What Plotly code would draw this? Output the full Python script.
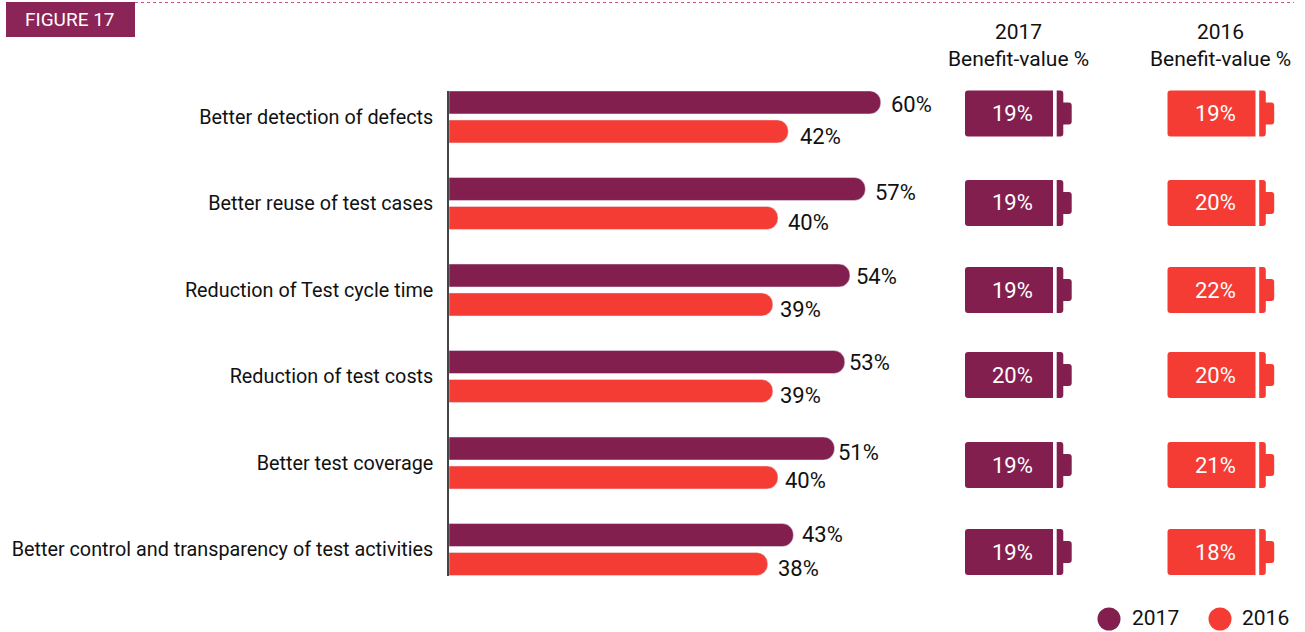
import plotly.graph_objects as go

W, H = 1305, 632
PURPLE = '#831f4f'
RED = '#f43c35'
FONT = 'Roboto, Liberation Sans, sans-serif'
AXIS_START = -24  # bars do not start from zero in the original

categories = ['Better detection of defects', 'Better reuse of test cases',
              'Reduction of Test cycle time', 'Reduction of test costs',
              'Better test coverage', 'Better control and transparency of test activities']
adoption_2017 = [60, 57, 54, 53, 51, 43]
adoption_2016 = [42, 40, 39, 39, 40, 38]
benefit_2017 = [19, 19, 19, 20, 19, 19]
benefit_2016 = [19, 20, 22, 20, 21, 18]

# placement of the hand-set pieces, in page pixels
label_y_2017 = [104, 192, 276, 363, 452, 534]
label_y_2016 = [136, 222, 310, 395, 481, 568]
label_gap_2017 = [8, 8, 4, 2, 1, 7]
label_gap_2016 = [10, 8, 5, 5, 5, 8]
battery_y = [113.5, 203, 290, 375, 465, 552]


def px(x):
    return x / W


def py(y):
    return 1 - y / H


def text(x, y, s, size=21, color='#111111', anchor='center'):
    return dict(x=px(x), y=py(y), xref='paper', yref='paper', text=s, showarrow=False,
                xanchor=anchor, yanchor='middle', align='center',
                font=dict(family=FONT, size=size, color=color))


def battery_paths(x0, yc):
    top, bot = yc - 23, yc + 23
    r = 3
    body = (f'M{px(x0 + r)},{py(top)} L{px(x0 + 88)},{py(top)} L{px(x0 + 88)},{py(bot)} '
            f'L{px(x0 + r)},{py(bot)} Q{px(x0)},{py(bot)} {px(x0)},{py(bot - r)} '
            f'L{px(x0)},{py(top + r)} Q{px(x0)},{py(top)} {px(x0 + r)},{py(top)} Z')
    a, b, c = x0 + 91.7, x0 + 98.3, x0 + 106.7
    tip = (f'M{px(a)},{py(top)} L{px(b - r)},{py(top)} Q{px(b)},{py(top)} {px(b)},{py(top + r)} '
           f'L{px(b)},{py(yc - 11)} L{px(c - r)},{py(yc - 11)} Q{px(c)},{py(yc - 11)} {px(c)},{py(yc - 8)} '
           f'L{px(c)},{py(yc + 8)} Q{px(c)},{py(yc + 11)} {px(c - r)},{py(yc + 11)} '
           f'L{px(b)},{py(yc + 11)} L{px(b)},{py(bot - r)} Q{px(b)},{py(bot)} {px(b - r)},{py(bot)} '
           f'L{px(a)},{py(bot)} Z')
    return body, tip


# lengths are measured from AXIS_START so only the tip of each bar is rounded
fig = go.Figure()
fig.add_trace(go.Bar(y=categories, x=[v - AXIS_START for v in adoption_2017], orientation='h',
                     marker_color=PURPLE, name='2017', customdata=adoption_2017,
                     hovertemplate='%{y}: %{customdata}%<extra>2017</extra>'))
fig.add_trace(go.Bar(y=categories, x=[v - AXIS_START for v in adoption_2016], orientation='h',
                     marker_color=RED, name='2016', customdata=adoption_2016,
                     hovertemplate='%{y}: %{customdata}%<extra>2016</extra>'))

shapes = []
annotations = []

# header
shapes.append(dict(type='rect', xref='paper', yref='paper', x0=px(6), x1=px(135), y0=py(2), y1=py(37),
                   fillcolor='#8b2457', line_width=0))
shapes.append(dict(type='line', xref='paper', yref='paper', x0=px(135), x1=px(1294), y0=py(2.5), y1=py(2.5),
                   line=dict(color='#c2548c', width=1, dash='dot')))
annotations.append(text(70, 19, 'FIGURE 17', size=19, color='white'))
annotations.append(text(1018, 45, '2017<br>Benefit-value %', size=21))
annotations.append(text(1220, 45, '2016<br>Benefit-value %', size=21))

# value labels
for i in range(len(categories)):
    annotations.append(dict(x=adoption_2017[i] - AXIS_START, xref='x', y=py(label_y_2017[i]), yref='paper',
                            xanchor='left', yanchor='middle', text=f'{adoption_2017[i]}%', showarrow=False,
                            xshift=label_gap_2017[i], font=dict(family=FONT, size=22, color='#111111')))
    annotations.append(dict(x=adoption_2016[i] - AXIS_START, xref='x', y=py(label_y_2016[i]), yref='paper',
                            xanchor='left', yanchor='middle', text=f'{adoption_2016[i]}%', showarrow=False,
                            xshift=label_gap_2016[i], font=dict(family=FONT, size=22, color='#111111')))

# batteries
for i, yc in enumerate(battery_y):
    for x0, color, val in ((965, PURPLE, benefit_2017[i]), (1167.5, RED, benefit_2016[i])):
        for path in battery_paths(x0, yc):
            shapes.append(dict(type='path', xref='paper', yref='paper', path=path, fillcolor=color, line_width=0))
        annotations.append(text(x0 + 47.5, yc, f'{val}%', size=22, color='white'))

# legend
for xc, color, year, tx in ((1109, PURPLE, '2017', 1130), (1220, RED, '2016', 1240)):
    shapes.append(dict(type='circle', xref='paper', yref='paper', x0=px(xc - 11.5), x1=px(xc + 11.5),
                       y0=py(619 + 11.5), y1=py(619 - 11.5), fillcolor=color, line_width=0))
    annotations.append(text(tx, 618, year, size=21, anchor='left'))

fig.update_layout(
    width=W, height=H, margin=dict(l=0, r=0, t=0, b=0),
    paper_bgcolor='white', plot_bgcolor='white',
    barmode='group', bargap=0.33, bargroupgap=0.207, barcornerradius=11,
    showlegend=False, shapes=shapes, annotations=annotations,
    xaxis=dict(domain=[px(449), 1], range=[0, 856 / 5.14], visible=False),
    yaxis=dict(domain=[py(576), py(91)], type='category', categoryorder='array', categoryarray=categories,
               range=[5.306, -0.3], showline=True, linecolor='#444444', linewidth=1.5, automargin=False,
               showgrid=False, ticks='', ticklabelstandoff=10,
               tickfont=dict(family=FONT, size=19.8, color='#111111')),
)

fig.write_html("out.html", config={'displayModeBar': False}, post_script="document.body.style.margin='0';")
